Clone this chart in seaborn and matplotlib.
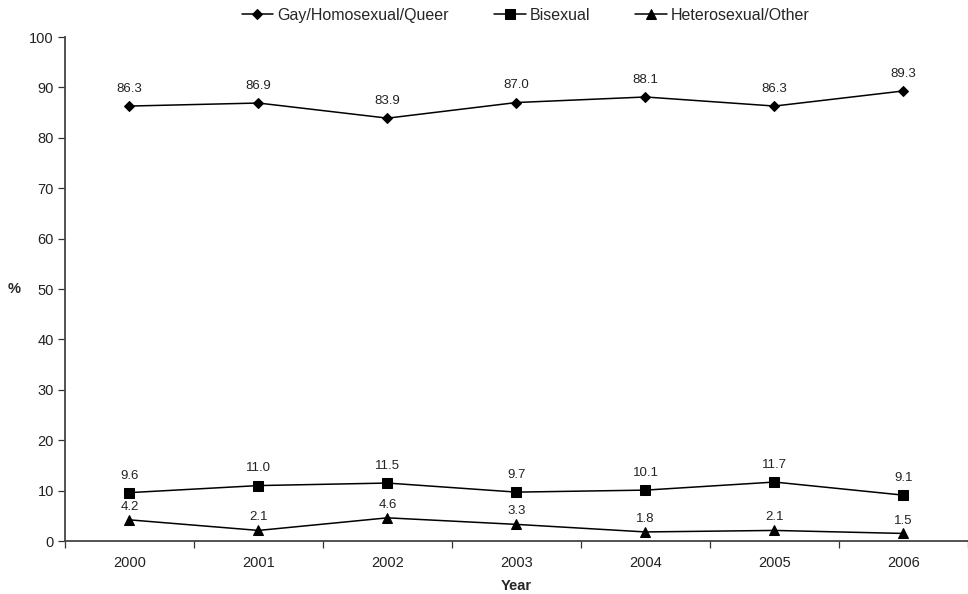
import matplotlib
matplotlib.use("Agg")
import matplotlib.pyplot as plt
import seaborn as sns
import pandas as pd
import numpy as np

years = ["2000", "2001", "2002", "2003", "2004", "2005", "2006"]
gay = [86.3, 86.9, 83.9, 87.0, 88.1, 86.3, 89.3]
bisexual = [9.6, 11.0, 11.5, 9.7, 10.1, 11.7, 9.1]
hetero = [4.2, 2.1, 4.6, 3.3, 1.8, 2.1, 1.5]
series_names = ["Gay/Homosexual/Queer", "Bisexual", "Heterosexual/Other"]
markers = ["D", "s", "^"]
marker_sizes = [5, 7, 7]
label_offsets = [8, 8, 5]

sns.set_theme(style="white")
plt.rcParams["font.family"] = ["Liberation Sans", "DejaVu Sans"]

df = pd.DataFrame({"Year": years * 3,
                   "value": gay + bisexual + hetero,
                   "series": np.repeat(series_names, len(years))})

fig = plt.figure(figsize=(9.68, 5.94), dpi=100)
ax = fig.add_axes([0.0671, 0.0892, 0.9329, 0.8485])

x = np.arange(len(years))
for name, mk, ms, off in zip(series_names, markers, marker_sizes, label_offsets):
    sub = df[df["series"] == name]
    sns.lineplot(x=x, y=sub["value"].values, ax=ax, color="black", lw=1.1,
                 marker=mk, markersize=ms, markeredgecolor="black",
                 markerfacecolor="black", label=name)
    for xi, v in zip(x, sub["value"].values):
        ax.annotate(f"{v:.1f}", (xi, v), xytext=(0, off), textcoords="offset points",
                    ha="center", va="bottom", fontsize=9.5, color="#222222")

ax.set_xlim(-0.5, len(years) - 0.5)
ax.set_ylim(0, 100)
ax.set_yticks(range(0, 101, 10))
ax.set_xticks(x)
ax.set_xticklabels(years)
ax.set_xticks(np.arange(-0.5, len(years)), minor=True)
ax.tick_params(axis="x", which="major", bottom=False, length=0, pad=11, labelsize=10.5,
               labelcolor="#222222")
ax.tick_params(axis="x", which="minor", bottom=True, length=5, width=0.9,
               color="#333333", direction="out")
ax.tick_params(axis="y", which="major", left=True, length=5, width=0.9, color="#333333",
               direction="out", labelsize=10.5, pad=3, labelcolor="#222222")
for side in ["top", "right"]:
    ax.spines[side].set_visible(False)
for side in ["left", "bottom"]:
    ax.spines[side].set_color("#444444")
    ax.spines[side].set_linewidth(1.3)

ax.set_xlabel("Year", fontsize=10.5, fontweight="bold", labelpad=6)
ax.set_ylabel("%", fontsize=10.5, fontweight="bold", rotation=0, va="center", ha="center")
ax.yaxis.set_label_coords(-0.056, 0.5)

ax.legend(loc="upper center", bbox_to_anchor=(0.51, 1.086), ncol=3, frameon=False,
          fontsize=11.5, handlelength=2.0, handletextpad=0.25, columnspacing=2.8)

fig.savefig("out.png", dpi=100)
